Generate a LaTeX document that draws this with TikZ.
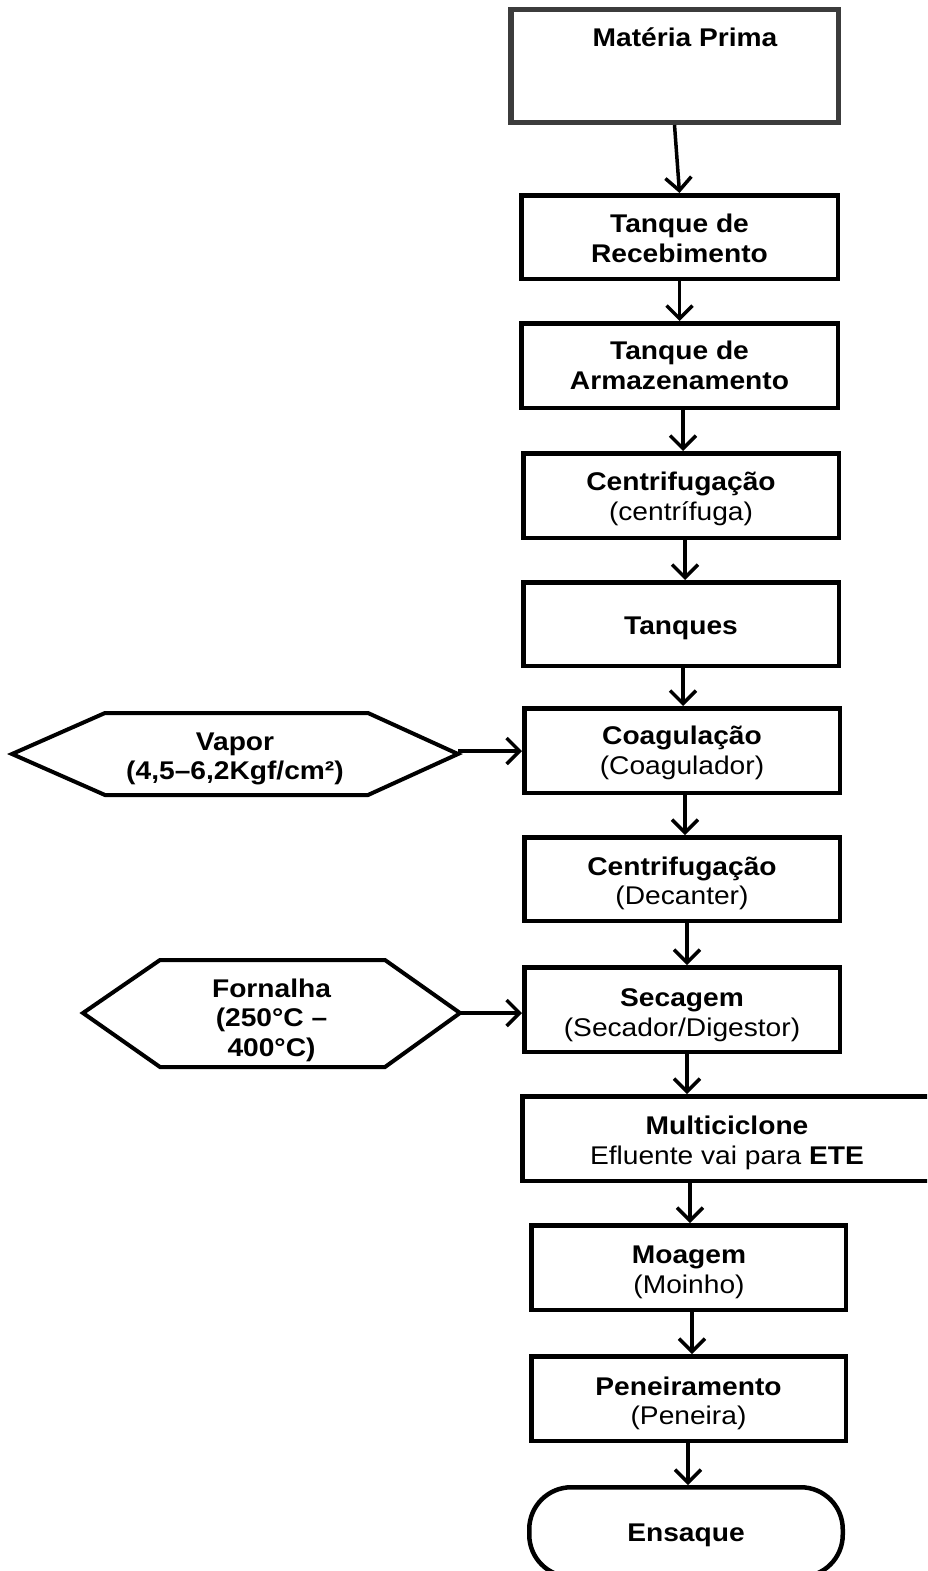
\documentclass[tikz,border=0pt]{standalone}
\usepackage{fontspec}
\setmainfont{Liberation Sans}[FakeStretch=1.1]
\usetikzlibrary{arrows.meta}
\definecolor{mpgray}{HTML}{3C3C3C}
\begin{document}
\begin{tikzpicture}[x=1pt,y=-1pt,
  box/.style={draw=black,line width=4.5pt,rectangle,inner sep=0pt},
  arr/.style={line width=3.5pt,-{Straight Barb[length=13pt,width=26pt]}},
  hexa/.style={draw=black,line width=4pt,line join=miter},
  txt/.style={align=center,inner sep=0pt,font=\fontsize{25.6}{29.5}\selectfont},
  lbl/.style={txt,font=\fontsize{25.6}{29.5}\selectfont\bfseries}
]
\clip (0,0) rectangle (927,1571);
\fill[white] (0,0) rectangle (927,1571);

% boxes
\node[box,draw=mpgray,line width=5.5pt,minimum width=327.5pt,minimum height=112.5pt] (mp) at (674.5,66) {};
\node[lbl] (mpt) at (685,37) {Matéria Prima};
\node[box,minimum width=316.5pt,minimum height=83.5pt] (tr) at (679.5,237) {};
\node[lbl] (trt) at (679.5,238.5) {Tanque de\\Recebimento};
\node[box,minimum width=316.5pt,minimum height=84.5pt] (ta) at (679.5,365.5) {};
\node[lbl] (tat) at (679.5,365.5) {Tanque de\\Armazenamento};
\node[box,minimum width=315.5pt,minimum height=84.5pt] (c1) at (681,495.5) {};
\node[txt] (c1t) at (681,499) {\textbf{Centrifugação}\\(centrífuga)};
\node[box,minimum width=315.5pt,minimum height=83.5pt] (tq) at (681,624) {};
\node[lbl] (tqt) at (681,628.5) {Tanques};
\node[box,minimum width=315.5pt,minimum height=84.5pt] (co) at (682,750.5) {};
\node[txt] (cot) at (682,753) {\textbf{Coagulação}\\(Coagulador)};
\node[box,minimum width=315.5pt,minimum height=83.5pt] (c2) at (682,879) {};
\node[txt] (c2t) at (682,883.5) {\textbf{Centrifugação}\\(Decanter)};
\node[box,minimum width=315.5pt,minimum height=84.5pt] (se) at (682,1009.5) {};
\node[txt] (set) at (682,1015) {\textbf{Secagem}\\(Secador/Digestor)};
\node[box,minimum width=415.5pt,minimum height=84.5pt] (mu) at (730,1138.5) {};
\node[txt] (mut) at (727,1143) {\textbf{Multiciclone}\\Efluente vai para \textbf{ETE}};
\node[box,minimum width=314.5pt,minimum height=84.5pt] (mo) at (688.5,1267.5) {};
\node[txt] (mot) at (689,1272.5) {\textbf{Moagem}\\(Moinho)};
\node[box,minimum width=314.5pt,minimum height=84.5pt] (pe) at (688.5,1398.5) {};
\node[txt] (pet) at (688.5,1403.5) {\textbf{Peneiramento}\\(Peneira)};
\node[box,rounded corners=42pt,minimum width=313.5pt,minimum height=89.5pt] (en) at (686,1532) {};
\node[lbl] (ent) at (686,1535) {Ensaque};

% hexagons
\draw[hexa] (12,754) -- (105,713) -- (368,713) -- (458,754) -- (368,795) -- (105,795) -- cycle;
\coordinate (vtip) at (458,751);
\node[lbl] (vap) at (235,759) {Vapor\\(4,5–6,2Kgf/cm²)};
\draw[hexa] (83,1013) -- (160,960) -- (385,960) -- (460,1013) -- (385,1067) -- (160,1067) -- cycle;
\coordinate (ftip) at (460,1013);
\node[lbl] (forn) at (271.5,1020) {Fornalha\\(250°C –\\400°C)};

% connectors
\draw[arr] (mp.south) -- (tr.north);
\draw[arr] (tr.south) -- (ta.north);
\draw[arr] (683,0 |- ta.south) -- (683,0 |- c1.north);
\draw[arr] (685,0 |- c1.south) -- (685,0 |- tq.north);
\draw[arr] (683,0 |- tq.south) -- (683,0 |- co.north);
\draw[arr] (685,0 |- co.south) -- (685,0 |- c2.north);
\draw[arr] (687,0 |- c2.south) -- (687,0 |- se.north);
\draw[arr] (687,0 |- se.south) -- (687,0 |- mu.north);
\draw[arr] (690,0 |- mu.south) -- (690,0 |- mo.north);
\draw[arr] (692,0 |- mo.south) -- (692,0 |- pe.north);
\draw[arr] (688,0 |- pe.south) -- (688,0 |- en.north);
\draw[arr] (vtip) -- (vtip -| co.west);
\draw[arr] (ftip) -- (ftip -| se.west);
\end{tikzpicture}
\end{document}
